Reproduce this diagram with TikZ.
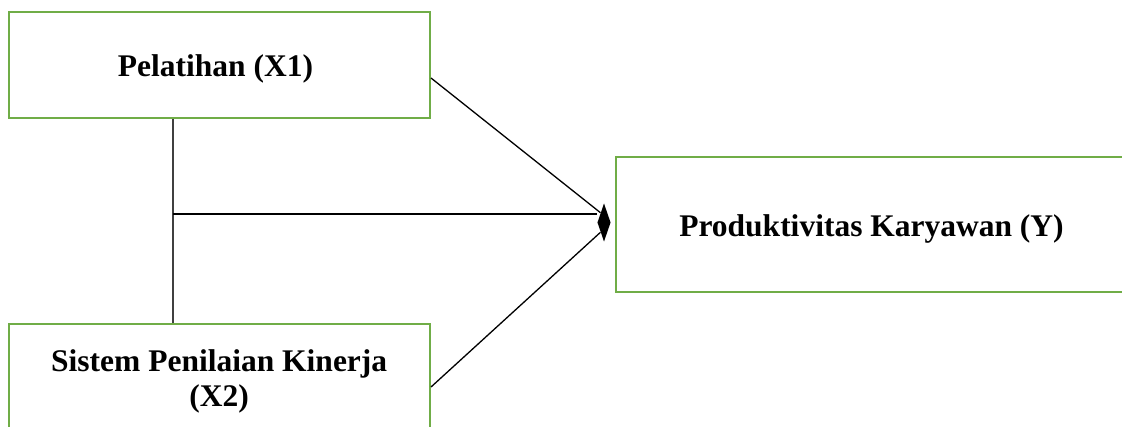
\documentclass[tikz,border=0pt]{standalone}
\usepackage{fontspec}
\setmainfont{Liberation Serif}
\usetikzlibrary{shapes.geometric}
\definecolor{boxgreen}{HTML}{70AD47}
\definecolor{vgray}{HTML}{404040}
\begin{document}
\begin{tikzpicture}[x=0.5pt,y=-0.5pt,
  box/.style={draw=boxgreen, line width=1pt, inner sep=0pt, rectangle},
  lbl/.style={font=\fontsize{15.75}{17.5}\selectfont\bfseries, align=center, inner sep=0pt},
  conn/.style={draw=black, line width=0.65pt}]
\useasboundingbox (0,0) rectangle (1122,427);
% boxes
\node[box, minimum width=210.5pt, minimum height=53pt] (X1) at (219.5,65) {};
\node[box, minimum width=210.5pt, minimum height=57pt] (X2) at (219.5,381) {};
\node[box, minimum width=262pt, minimum height=67.5pt] (Y) at (878,224.5) {};
% labels
\node[lbl, anchor=base] (lX1) at (215.5,76.7) {Pelatihan (X1)};
\node[lbl] (lX2) at (219.2,381) {Sistem Penilaian Kinerja\\(X2)};
\node[lbl, anchor=base] (lY) at (871.5,236) {Produktivitas Karyawan (Y)};
% arrow tip
\node[diamond, fill=black, inner sep=0pt, minimum width=6.7pt, minimum height=19.2pt] (tip) at (604,222.5) {};
% connectors
\coordinate (v) at (173,0);
\coordinate (h) at (173,214);
\draw[conn, draw=vgray] (X1.south -| v) -- (X2.north -| v);
\draw[conn] (h) -- (tip.west |- h);
\draw[conn] ([yshift=-6.5pt]X1.east) -- (tip.north west);
\draw[conn] ([yshift=-3pt]X2.east) -- (tip.south west);
\end{tikzpicture}
\end{document}
